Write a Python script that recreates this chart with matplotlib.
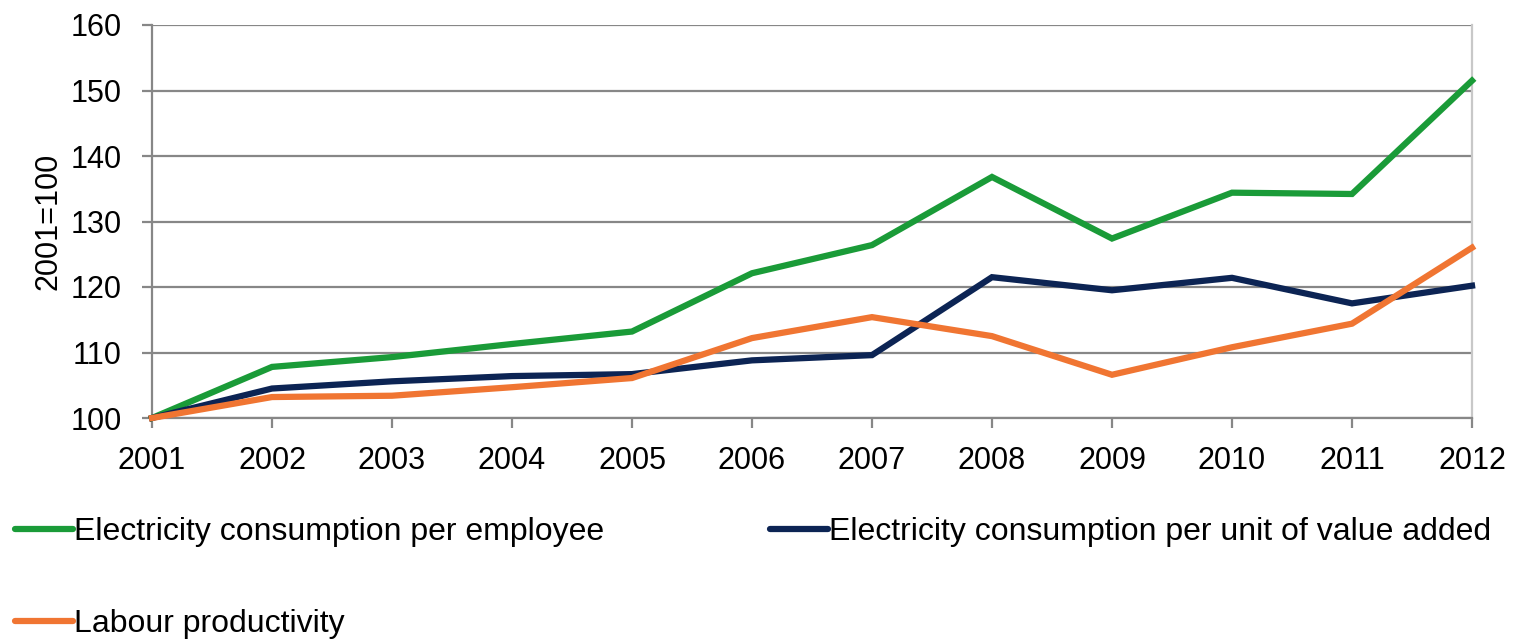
import matplotlib
matplotlib.use("Agg")
import matplotlib.pyplot as plt
from matplotlib.lines import Line2D

plt.rcParams['font.family'] = ['Liberation Sans', 'DejaVu Sans']

years = [2001, 2002, 2003, 2004, 2005, 2006, 2007, 2008, 2009, 2010, 2011, 2012]
per_employee = [100, 107.8, 109.3, 111.3, 113.2, 122.1, 126.4, 136.8, 127.4, 134.4, 134.2, 151.5]
per_value_added = [100, 104.5, 105.6, 106.4, 106.7, 108.8, 109.6, 121.5, 119.5, 121.4, 117.5, 120.2]
labour_productivity = [100, 103.2, 103.4, 104.7, 106.1, 112.2, 115.4, 112.5, 106.6, 110.8, 114.4, 126.0]

labels = ["Electricity consumption per employee",
          "Electricity consumption per unit of value added",
          "Labour productivity"]
colors = ["#1a9b38", "#0c2454", "#f07532"]

W, H = 1517, 642
fig = plt.figure(figsize=(W / 100, H / 100), dpi=100)
ax = fig.add_axes([152 / W, 1 - 418 / H, (1472 - 152) / W, (418 - 25) / H])

grid_c = "#878787"
ax.set_ylim(100, 160)
ax.set_xlim(years[0], years[-1])
ax.set_yticks(range(100, 161, 10))
ax.set_xticks(years)
ax.yaxis.grid(True, color=grid_c, linewidth=1.6)
ax.set_axisbelow(True)

ax.spines["top"].set_visible(False)
ax.spines["right"].set_color("#c8c8c8")
ax.spines["right"].set_linewidth(1.6)
for s in ["left", "bottom"]:
    ax.spines[s].set_color(grid_c)
    ax.spines[s].set_linewidth(1.6)

ax.tick_params(axis="both", direction="out", length=7, width=1.6, color=grid_c,
               labelsize=22, labelcolor="black")
ax.tick_params(axis="x", pad=13)
ax.tick_params(axis="y", pad=15)

for vals, col, lab in zip([per_employee, per_value_added, labour_productivity], colors, labels):
    ax.plot(years, vals, color=col, linewidth=4.5, label=lab, clip_on=False,
            solid_joinstyle="miter", zorder=3)

ax.set_ylabel("2001=100", fontsize=22, labelpad=5)

# Legend: column-wise fill, so order handles to give two entries in the first row
handles = [Line2D([], [], color=c, linewidth=4.5, solid_capstyle="round") for c in colors]
order = [0, 2, 1]
fig.legend([handles[i] for i in order], [labels[i] for i in order],
           loc="upper left", bbox_to_anchor=(15 / W, 1 - 517 / H), ncol=2,
           frameon=False, fontsize=23, handlelength=1.8, handletextpad=0.05,
           labelspacing=1.95, columnspacing=5.2, borderpad=0, borderaxespad=0)

fig.savefig("out.png", dpi=100)
